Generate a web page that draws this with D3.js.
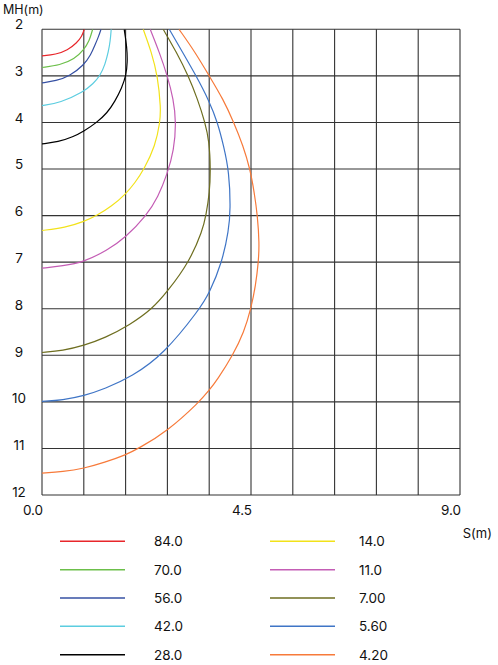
<!DOCTYPE html>
<html><head><meta charset="utf-8">
<script src="https://cdn.jsdelivr.net/npm/d3@7"></script>
<style>html,body{margin:0;padding:0;background:#fff}svg{display:block}text{font-family:Inter,"Open Sans",sans-serif;fill:#111}</style>
</head><body>
<svg id="c" width="498" height="665"></svg>
<script>
// ---- data ----
const gridS = [0, 0.9, 1.8, 2.7, 3.6, 4.5, 5.4, 6.3, 7.2, 8.1, 9.0];
const gridMH = [2, 3, 4, 5, 6, 7, 8, 9, 10, 11, 12];
const xTickValues = [0, 4.5, 9];
const xTickLabels = ["0.0", "4.5", "9.0"];
const yTickLabels = ["2","3","4","5","6","7","8","9","10","11","12"];
const luxLabels = ["84.0","70.0","56.0","42.0","28.0","14.0","11.0","7.00","5.60","4.20"];
const luxColors = ["#e8262b","#6cbf4a","#3650a3","#5ccde0","#000000","#f2e21a","#c45db5","#6e6e20","#3f75c6","#f77a3a"];
// each curve: [S(m), MH(m)] points
const lux84 = [[0,2.57],[0.3,2.54],[0.55,2.45],[0.75,2.29],[0.86,2.15],[0.91,2.0]];
const lux70 = [[0,2.82],[0.39,2.77],[0.7,2.64],[0.9,2.44],[1.02,2.25],[1.09,2.0]];
const lux56 = [[0,3.15],[0.3,3.11],[0.6,3.0],[0.9,2.77],[1.05,2.55],[1.14,2.34],[1.22,2.15],[1.27,2.0]];
const lux42 = [[0,3.64],[0.39,3.58],[0.9,3.34],[1.1,3.17],[1.25,3.0],[1.36,2.75],[1.43,2.48],[1.47,2.25],[1.49,2.0]];
const lux28 = [[0,4.46],[0.35,4.42],[0.67,4.31],[0.9,4.19],[1.18,4.0],[1.4,3.8],[1.57,3.55],[1.72,3.25],[1.81,3.0],[1.84,2.7],[1.83,2.4],[1.77,2.0]];
const lux14 = [[0,6.32],[0.5,6.26],[0.9,6.13],[1.18,6.0],[1.5,5.8],[1.8,5.54],[2.0,5.3],[2.2,5.0],[2.44,4.5],[2.54,4.0],[2.56,3.7],[2.49,3.0],[2.36,2.5],[2.18,2.0]];
const lux11 = [[0,7.13],[0.45,7.08],[0.89,7.0],[1.4,6.75],[1.8,6.47],[2.25,6.0],[2.5,5.6],[2.7,5.1],[2.84,4.6],[2.89,4.0],[2.83,3.5],[2.7,3.0],[2.53,2.5],[2.33,2.0]];
const lux7 = [[0,8.94],[0.45,8.9],[0.9,8.79],[1.35,8.63],[1.89,8.35],[2.38,8.0],[2.7,7.63],[3.17,7.0],[3.46,6.31],[3.53,6.0],[3.61,5.5],[3.63,5.0],[3.6,4.4],[3.51,4.0],[3.35,3.5],[3.15,3.0],[2.9,2.5],[2.61,2.0]];
const lux56b = [[0,9.99],[0.45,9.96],[0.9,9.87],[1.35,9.72],[1.93,9.46],[2.62,8.98],[3.40,8.0],[3.6,7.67],[3.88,7.0],[4.02,6.31],[4.06,5.88],[4.03,5.06],[3.91,4.5],[3.78,4.0],[3.6,3.54],[3.32,3.0],[3.02,2.48],[2.74,2.0]];
const lux42b = [[0,11.53],[0.45,11.5],[0.9,11.43],[1.35,11.3],[1.8,11.14],[2.08,11.0],[2.7,10.63],[3.39,10.0],[3.6,9.75],[3.77,9.53],[4.11,9.0],[4.35,8.5],[4.5,8.0],[4.6,7.5],[4.66,7.0],[4.68,6.6],[4.64,6.0],[4.57,5.5],[4.48,5.0],[4.33,4.5],[4.13,4.0],[3.9,3.5],[3.6,3.0],[3.29,2.48],[2.95,2.0]];
const curves = [lux84, lux70, lux56, lux42, lux28, lux14, lux11, lux7, lux56b, lux42b];

// ---- drawing ----
const svg = d3.select("#c");
const x = d3.scaleLinear().domain([0, 9]).range([42, 460]);
const y = d3.scaleLinear().domain([2, 12]).range([29.3, 495]);
const yLab = d3.scaleLinear().domain([2, 12]).range([24, 492]);

svg.append("defs").append("clipPath").attr("id","pc")
  .append("rect").attr("x", x(0)).attr("y", y(2)).attr("width", x(9)-x(0)).attr("height", y(12)-y(2));

const g = svg.append("g");
g.selectAll("line.v").data(gridS).join("line").attr("class","v")
  .attr("x1", d => x(d)).attr("x2", d => x(d)).attr("y1", y(2)).attr("y2", y(12))
  .attr("stroke", "#333").attr("stroke-width", 1.1);
g.selectAll("line.h").data(gridMH).join("line").attr("class","h")
  .attr("y1", d => y(d)).attr("y2", d => y(d)).attr("x1", x(0)).attr("x2", x(9))
  .attr("stroke", "#333").attr("stroke-width", 1.1);

const line = d3.line().x(d => x(d[0])).y(d => y(d[1])).curve(d3.curveBasis);
svg.append("g").attr("clip-path","url(#pc)").selectAll("path").data(curves).join("path")
  .attr("d", line).attr("fill","none")
  .attr("stroke", (d,i) => luxColors[i]).attr("stroke-width", 1.2);

// y labels
svg.selectAll("text.yl").data(gridMH).join("text").attr("class","yl")
  .attr("x", 19).attr("y", d => yLab(d)).attr("text-anchor","middle")
  .attr("dominant-baseline","central").attr("font-size", 13.5)
  .text((d,i) => yTickLabels[i]);
svg.append("text").attr("x", 3).attr("y", 9).attr("dominant-baseline","central")
  .attr("font-size", 12.5).text("MH(m)");

// x labels
svg.selectAll("text.xl").data(xTickValues).join("text").attr("class","xl")
  .attr("x", d => x(d) - 9).attr("y", 510).attr("text-anchor","middle")
  .attr("dominant-baseline","central").attr("font-size", 13.5)
  .text((d,i) => xTickLabels[i]);
svg.append("text").attr("x", 492).attr("y", 533).attr("text-anchor","end")
  .attr("dominant-baseline","central").attr("font-size", 13).text("S(m)");

// legend
const leg = svg.append("g");
luxLabels.forEach((lab, i) => {
  const col = Math.floor(i / 5), row = i % 5;
  const lx = col === 0 ? 60 : 270, tx = col === 0 ? 154 : 359;
  const ly = 541.3 + row * 28.35;
  leg.append("line").attr("x1", lx).attr("x2", lx + 65).attr("y1", ly).attr("y2", ly)
    .attr("stroke", luxColors[i]).attr("stroke-width", 1.5);
  leg.append("text").attr("x", tx).attr("y", ly).attr("dominant-baseline","central")
    .attr("font-size", 13.5).text(lab);
});
</script>
</body></html>
